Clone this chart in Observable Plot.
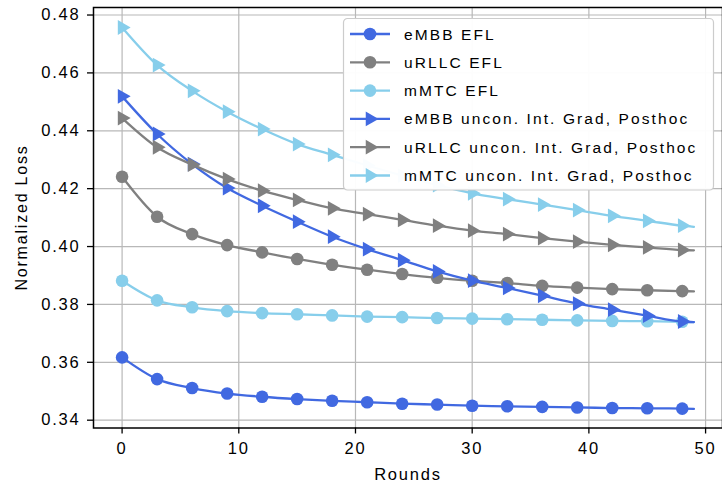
<!DOCTYPE html>
<html><head><meta charset="utf-8">
<script src="https://cdn.jsdelivr.net/npm/d3@7"></script>
<script src="https://cdn.jsdelivr.net/npm/@observablehq/plot@0.6"></script>
<style>
body{margin:0;background:#fff;}
#chart{width:722px;height:488px;position:relative;}
</style></head><body><div id="chart"></div>
<script>
// Rounds at which values were read (markers every 3 rounds, line ends at 49)
const rounds = [0,3,6,9,12,15,18,21,24,27,30,33,36,39,42,45,48,49];
const embbEFL  = [0.3617,0.3542,0.3511,0.3492,0.3481,0.3473,0.3467,0.3462,0.3457,0.3454,0.3450,0.3448,0.3446,0.3444,0.3442,0.3441,0.3440,0.3439];
const urllcEFL = [0.4241,0.4103,0.4043,0.4005,0.3980,0.3957,0.3937,0.3920,0.3905,0.3892,0.3882,0.3874,0.3864,0.3858,0.3853,0.3849,0.3846,0.3845];
const mmtcEFL  = [0.3882,0.3814,0.3790,0.3777,0.3770,0.3766,0.3762,0.3758,0.3756,0.3753,0.3751,0.3749,0.3747,0.3745,0.3743,0.3742,0.3740,0.3739];
const embbPH   = [0.4519,0.4389,0.4285,0.4202,0.4141,0.4086,0.4034,0.3991,0.3953,0.3914,0.3882,0.3857,0.3830,0.3803,0.3782,0.3761,0.3741,0.3739];
const urllcPH  = [0.4444,0.4343,0.4283,0.4233,0.4193,0.4161,0.4132,0.4112,0.4092,0.4072,0.4055,0.4043,0.4029,0.4017,0.4006,0.3997,0.3988,0.3987];
const mmtcPH   = [0.4757,0.4627,0.4538,0.4466,0.4406,0.4354,0.4317,0.4280,0.4245,0.4212,0.4184,0.4164,0.4145,0.4126,0.4106,0.4089,0.4072,0.4068];

const seriesNames = ["eMBB EFL","uRLLC EFL","mMTC EFL","eMBB uncon. Int. Grad, Posthoc","uRLLC uncon. Int. Grad, Posthoc","mMTC uncon. Int. Grad, Posthoc"];
const seriesColors = ["#4169e1","#808080","#87ceeb","#4169e1","#808080","#87ceeb"];
const seriesSymbols = ["circle","circle","circle","triangle","triangle","triangle"];
const xTicks = [0,10,20,30,40,50];
const yTicks = [0.34,0.36,0.38,0.40,0.42,0.44,0.46,0.48];
const xLabel = "Rounds";
const yLabel = "Normalized Loss";

const allSeries = [embbEFL, urllcEFL, mmtcEFL, embbPH, urllcPH, mmtcPH];
const data = allSeries.flatMap((vals, i) => vals.map((v, j) => ({round: rounds[j], loss: v, s: i})));

const font = "'Liberation Sans', Arial, sans-serif";
const marks = [
  Plot.gridX(xTicks, {stroke: "#b8b8b8", strokeOpacity: 1, strokeWidth: 1.2}),
  Plot.gridY(yTicks, {stroke: "#b8b8b8", strokeOpacity: 1, strokeWidth: 1.2})
];
allSeries.forEach((_, i) => {
  const d = data.filter(p => p.s === i);
  marks.push(Plot.line(d, {x: "round", y: "loss", stroke: seriesColors[i], strokeWidth: 2.3, curve: "monotone-x"}));
  marks.push(Plot.dot(d.filter(p => p.round % 3 === 0), {
    x: "round", y: "loss", fill: seriesColors[i], stroke: "none",
    r: i < 3 ? 6.3 : 5.5, symbol: seriesSymbols[i], rotate: i < 3 ? 0 : 90
  }));
});
marks.push(Plot.frame({stroke: "#000", strokeWidth: 1.5}));
marks.push(Plot.axisX(xTicks, {tickSize: 6, tickPadding: 8, fontSize: 16.5, label: null, stroke: "#000", strokeWidth: 1.3}));
marks.push(Plot.axisY(yTicks, {tickSize: 6, tickPadding: 7, fontSize: 16.5, label: null, tickFormat: d3.format(".2f"), stroke: "#000", strokeWidth: 1.3}));

const plot = Plot.plot({
  width: 722, height: 488,
  marginLeft: 93, marginRight: 0, marginTop: 7, marginBottom: 60.5,
  x: {domain: [-2.45, 51.45]},
  y: {domain: [0.3373, 0.4826]},
  style: {fontFamily: font, letterSpacing: "1.8px", color: "#000", background: "#fff", overflow: "visible"},
  marks
});
document.getElementById("chart").appendChild(plot);

const svg = d3.select(plot);
// axis titles
svg.append("text").attr("x", 408).attr("y", 480).attr("text-anchor", "middle")
  .attr("font-size", 16.5).attr("fill", "#000").text(xLabel);
svg.append("text").attr("transform", "translate(27,217.5) rotate(-90)").attr("text-anchor", "middle")
  .attr("font-size", 16).attr("fill", "#000").text(yLabel);

// legend
const lg = svg.append("g").attr("transform", "translate(343.5,18.5)");
lg.append("rect").attr("width", 370).attr("height", 171.5).attr("rx", 4)
  .attr("fill", "#ffffff").attr("fill-opacity", 0.96).attr("stroke", "#cccccc").attr("stroke-width", 1.2);
const tri = d3.symbol(d3.symbolTriangle, Math.PI * 5.5 * 5.5)();
const circ = d3.symbol(d3.symbolCircle, Math.PI * 6.3 * 6.3)();
seriesNames.forEach((name, i) => {
  const cy = 15.5 + i * 28.3;
  const row = lg.append("g").attr("transform", `translate(0,${cy})`);
  row.append("line").attr("x1", 6.5).attr("x2", 46.5).attr("y1", 0).attr("y2", 0)
    .attr("stroke", seriesColors[i]).attr("stroke-width", 2.3);
  row.append("path").attr("d", i < 3 ? circ : tri)
    .attr("transform", `translate(26.5,0) rotate(${i < 3 ? 0 : 90})`).attr("fill", seriesColors[i]);
  row.append("text").attr("x", 60.5).attr("y", 0).attr("dy", "0.36em")
    .attr("text-anchor", "start")
    .attr("font-size", 15.5).attr("letter-spacing", "2.1px").attr("fill", "#000").text(name);
});
</script></body></html>
